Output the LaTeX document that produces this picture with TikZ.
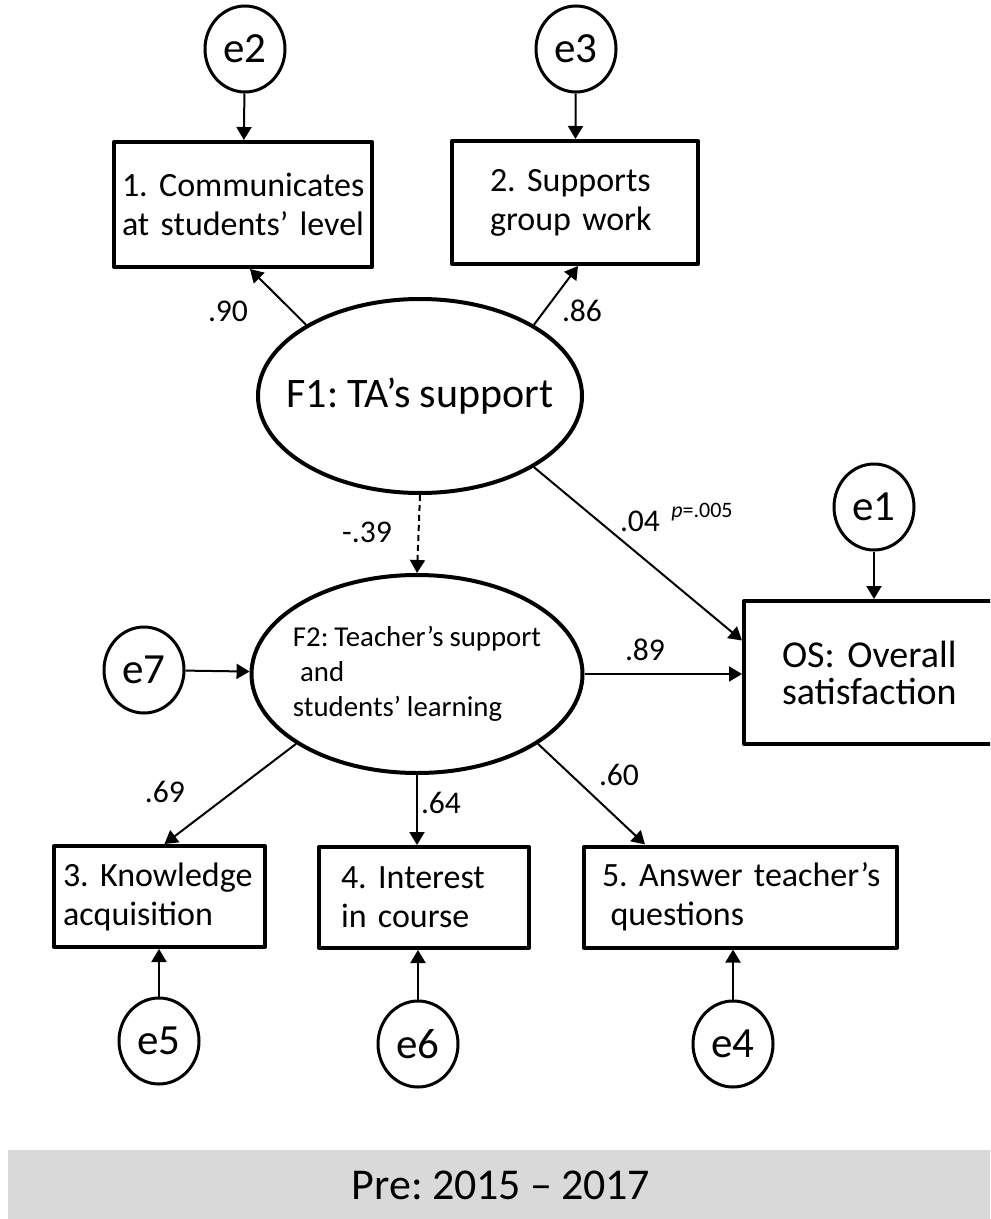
\documentclass[tikz,border=0pt]{standalone}
\usepackage{fontspec}
\setmainfont{Carlito}[WordSpace=0.9]
\usetikzlibrary{arrows.meta,shapes.geometric}
\definecolor{bandgray}{HTML}{D9D9D9}
\frenchspacing
\hyphenpenalty=10000

\begin{document}
\begin{tikzpicture}[x=0.5pt,y=-0.5pt,>={Triangle[length=6.5pt,width=7.5pt]},line join=round,
	err/.style={draw,ellipse,line width=1.5pt,minimum width=40pt,minimum height=43pt,inner sep=0pt,font=\fontsize{21.5}{24}\selectfont},
	latent/.style={draw,ellipse,line width=2pt,inner xsep=-20pt,inner ysep=0pt},
	obs/.style={draw,rectangle,line width=2pt,align=left,inner ysep=0pt,font=\fontsize{17}{19.5}\selectfont},
	coef/.style={inner sep=0pt,font=\fontsize{15.8}{18}\selectfont},
	path/.style={->,line width=1pt}]
	\clip (0,0) rectangle (990,1219);
	% error terms
	\foreach \n/\x/\y in {e2/245/49, e3/576/49, e1/874/507, e7/144/670, e5/159/1041, e6/418/1044, e4/733/1044}
	\node[err] (\n) at (\x,\y) {\n};
	% observed items
	\node[obs,text width=121pt,inner xsep=4pt,minimum height=62.5pt] (b1) at (243,204.5) {1.~Communicates\\at students’ level};
	\node[obs,text width=85pt,inner xsep=19pt,minimum height=61.5pt] (b2) at (575,202.5) {2.~Supports\\group work};
	\node[obs,text width=90pt,inner xsep=19pt,minimum height=71.5pt,font=\fontsize{19}{18.5}\selectfont] (os) at (872,672.5) {OS:~Overall\\satisfaction};
	\node[obs,text width=96.5pt,inner xsep=4.5pt,minimum height=50.5pt] (b3) at (159.5,896.5) {3.~Knowledge\\acquisition};
	\node[obs,text width=83pt,inner xsep=11pt,minimum height=50.5pt] (b4) at (424,897.5) {4.~Interest\\in course};
	\node[obs,text width=138.5pt,inner xsep=9pt,minimum height=50.5pt] (b5) at (740.5,897) {5.~Answer~teacher’s\\\hspace{0.25em}questions};
	% factors
	\node[latent,minimum width=162pt,minimum height=97pt,font=\fontsize{21}{24}\selectfont] (F1) at (420,396) {F1: TA’s support};
	\node[latent,minimum width=165.5pt,minimum height=99pt,align=left,font=\fontsize{14.4}{17.5}\selectfont] (F2) at (417,674) {F2: Teacher’s support\\\hspace{0.25em}and\\students’ learning};
	% paths
	\draw[path] (e2) -- (b1);
	\draw[path] (e3) -- (b2);
	\draw[path] (e1.south) -- (e1.south |- os.north);
	\draw[path] (F1.148) -- ([xshift=3.5pt]b1.south);
	\draw[path] (F1.32) -- ([xshift=1.5pt]b2.south);
	\draw[path] (F1.-32) -- ([yshift=16pt]os.west);
	\draw[path,dashed,dash pattern=on 3pt off 2pt] (F1.south) -- (F2.north);
	\draw[path] (e7) -- (F2);
	\draw[path] (F2.east) -- (F2.east -| os.west);
	\draw[path] (F2.210) -- ([xshift=2.5pt]b3.north);
	\draw[path] (F2.south) -- (F2.south |- b4.north);
	\draw[path] (F2.-30) -- ([xshift=31.5pt]b5.north west);
	\draw[path] (e5.north) -- (e5.north |- b3.south);
	\draw[path] (e6.north) -- (e6.north |- b4.south);
	\draw[path] (e4.north) -- (e4.north |- b5.south);
	% coefficients
	\foreach \n/\t/\x/\y in {l90/.90/228/311, l86/.86/582/311, l39/-.39/367/532, l04/.04/640/521, l89/.89/645/650, l69/.69/165/792, l64/.64/441/803, l60/.60/619/775}
	\node[coef] (\n) at (\x,\y) {\t};
	\node[inner sep=0pt,font=\fontsize{11}{13}\selectfont] (pval) at (702,512) {\textit{p}=.005};
	% period band
	\fill[bandgray] (8,1150) rectangle (995,1225);
	\node[font=\fontsize{22}{26}\selectfont] (period) at (501,1185) {Pre: 2015 – 2017};
\end{tikzpicture}
\end{document}
